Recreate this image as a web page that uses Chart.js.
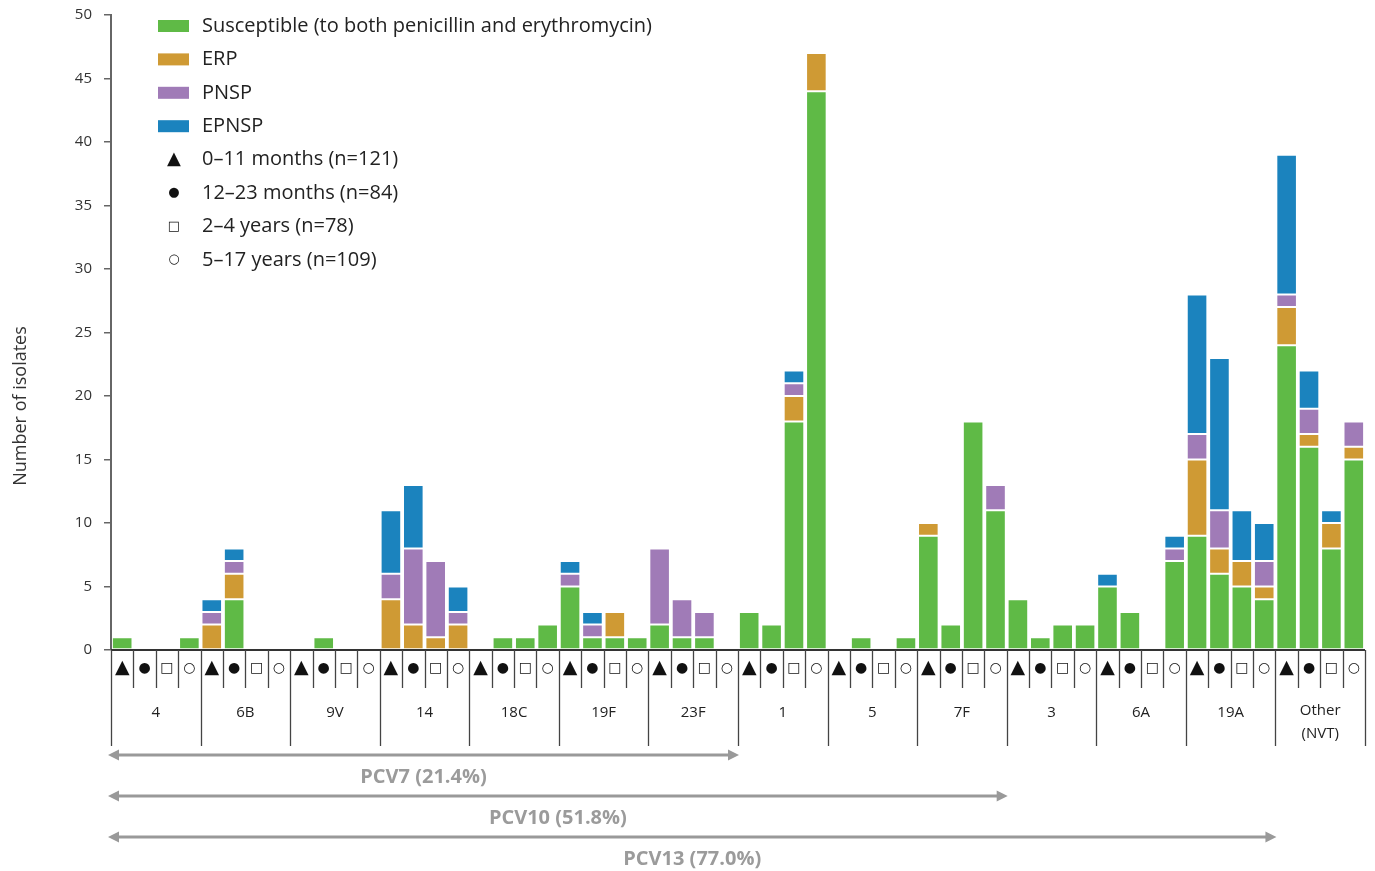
<!DOCTYPE html>
<html>
<head>
<meta charset="utf-8">
<script src="https://cdn.jsdelivr.net/npm/chart.js@4.4.1/dist/chart.umd.min.js"></script>
<style>
  html, body { margin: 0; padding: 0; background: #fff; }
  #wrap { width: 1375px; height: 871px; }
</style>
</head>
<body>
<div id="wrap"><canvas id="isolatesChart" width="1375" height="871"></canvas></div>
<script>
// serotype groups, each split in four age groups
const serotypes = ["4", "6B", "9V", "14", "18C", "19F", "23F", "1", "5", "7F", "3", "6A", "19A", "Other\n(NVT)"];
const ageSymbols = ["▲", "●", "□", "○"];
const ageLegend = ["0–11 months (n=121)", "12–23 months (n=84)", "2–4 years (n=78)", "5–17 years (n=109)"];
const seriesNames = ["Susceptible (to both penicillin and erythromycin)", "ERP", "PNSP", "EPNSP"];
const seriesColors = ["#5fba46", "#cf9a34", "#a07bb7", "#1b83be"];
const yTicks = [0, 5, 10, 15, 20, 25, 30, 35, 40, 45, 50];

// values per bar: ▲ ● □ ○ for each serotype, in order
const susceptible = [
  1, 0, 0, 1,   0, 4, 0, 0,   0, 1, 0, 0,   0, 0, 0, 0,
  0, 1, 1, 2,   5, 1, 1, 1,   2, 1, 1, 0,   3, 2, 18, 44,
  0, 1, 0, 1,   9, 2, 18, 11, 4, 1, 2, 2,   5, 3, 0, 7,
  9, 6, 5, 4,   24, 16, 8, 15
];
const erp = [
  0, 0, 0, 0,   2, 2, 0, 0,   0, 0, 0, 0,   4, 2, 1, 2,
  0, 0, 0, 0,   0, 0, 2, 0,   0, 0, 0, 0,   0, 0, 2, 3,
  0, 0, 0, 0,   1, 0, 0, 0,   0, 0, 0, 0,   0, 0, 0, 0,
  6, 2, 2, 1,   3, 1, 2, 1
];
const pnsp = [
  0, 0, 0, 0,   1, 1, 0, 0,   0, 0, 0, 0,   2, 6, 6, 1,
  0, 0, 0, 0,   1, 1, 0, 0,   6, 3, 2, 0,   0, 0, 1, 0,
  0, 0, 0, 0,   0, 0, 0, 2,   0, 0, 0, 0,   0, 0, 0, 1,
  2, 3, 0, 2,   1, 2, 0, 2
];
const epnsp = [
  0, 0, 0, 0,   1, 1, 0, 0,   0, 0, 0, 0,   5, 5, 0, 2,
  0, 0, 0, 0,   1, 1, 0, 0,   0, 0, 0, 0,   0, 0, 1, 0,
  0, 0, 0, 0,   0, 0, 0, 0,   0, 0, 0, 0,   1, 0, 0, 1,
  11, 12, 4, 3, 11, 3, 1, 0
];

// vaccine coverage: label and number of serotype groups covered
const vaccineLabels = ["PCV7 (21.4%)", "PCV10 (51.8%)", "PCV13 (77.0%)"];
const vaccineGroups = [7, 10, 13];

const barLabels = [];
serotypes.forEach((s) => ageSymbols.forEach((a) => barLabels.push(s + " " + a)));

const FONT = "'Open Sans', Lato, sans-serif";

const nullZero = (arr) => arr.map((v) => (v === 0 ? null : v));

const bottomAxis = {
  id: "bottomAxis",
  afterDraw(chart) {
    const ctx = chart.ctx;
    const x = chart.scales.x;
    const area = chart.chartArea;
    const step = x.getPixelForValue(1) - x.getPixelForValue(0);
    const base = area.bottom;
    ctx.save();

    // baseline
    ctx.strokeStyle = "#333";
    ctx.lineWidth = 2;
    ctx.beginPath();
    ctx.moveTo(area.left, base);
    ctx.lineTo(area.right, base);
    ctx.stroke();

    // cell separators
    ctx.lineWidth = 1.3;
    ctx.strokeStyle = "#444";
    for (let i = 0; i <= barLabels.length; i++) {
      const px = Math.round(x.getPixelForValue(i) - step / 2) + 0.5;
      ctx.beginPath();
      ctx.moveTo(px, base);
      ctx.lineTo(px, base + (i % 4 === 0 ? 96 : 38));
      ctx.stroke();
    }

    // age symbols
    ctx.fillStyle = "#111";
    ctx.textAlign = "center";
    ctx.textBaseline = "middle";
    for (let i = 0; i < barLabels.length; i++) {
      const k = i % 4;
      ctx.font = (k === 0 ? "19px" : "14px") + " 'DejaVu Sans'";
      ctx.fillText(ageSymbols[k], x.getPixelForValue(i), base + 18);
    }

    // serotype names
    ctx.font = "15px " + FONT;
    ctx.fillStyle = "#222";
    serotypes.forEach((s, g) => {
      const cx = (x.getPixelForValue(g * 4) + x.getPixelForValue(g * 4 + 3)) / 2;
      const lines = s.split("\n");
      if (lines.length === 1) {
        ctx.fillText(s, cx, base + 63);
      } else {
        ctx.fillText(lines[0], cx, base + 61);
        ctx.fillText(lines[1], cx, base + 84);
      }
    });

    // vaccine arrows
    const x0 = area.left - 3;
    vaccineGroups.forEach((n, j) => {
      const x1 = x.getPixelForValue(n * 4) - step / 2 + 1;
      const y = base + 105 + j * 41;
      ctx.strokeStyle = "#999";
      ctx.fillStyle = "#999";
      ctx.lineWidth = 3;
      ctx.beginPath();
      ctx.moveTo(x0 + 8, y);
      ctx.lineTo(x1 - 8, y);
      ctx.stroke();
      ctx.beginPath();
      ctx.moveTo(x0, y);
      ctx.lineTo(x0 + 11, y - 5.5);
      ctx.lineTo(x0 + 11, y + 5.5);
      ctx.closePath();
      ctx.fill();
      ctx.beginPath();
      ctx.moveTo(x1, y);
      ctx.lineTo(x1 - 11, y - 5.5);
      ctx.lineTo(x1 - 11, y + 5.5);
      ctx.closePath();
      ctx.fill();
      ctx.font = "bold 20px " + FONT;
      ctx.fillStyle = "#9b9b9b";
      ctx.fillText(vaccineLabels[j], (x0 + x1) / 2, y + 22);
    });

    // legend
    ctx.textAlign = "left";
    ctx.font = "20px " + FONT;
    seriesNames.forEach((name, k) => {
      const y = 26 + k * 33.4;
      ctx.fillStyle = seriesColors[k];
      ctx.fillRect(158, y - 6, 31, 12);
      ctx.fillStyle = "#222";
      ctx.fillText(name, 202, y);
    });
    ageLegend.forEach((name, k) => {
      const y = 26 + (k + 4) * 33.4;
      ctx.fillStyle = "#111";
      ctx.textAlign = "center";
      ctx.font = (k === 0 ? "18px" : "13px") + " 'DejaVu Sans'";
      ctx.fillText(ageSymbols[k], 174, y);
      ctx.textAlign = "left";
      ctx.font = "20px " + FONT;
      ctx.fillStyle = "#222";
      ctx.fillText(name, 202, y);
    });

    // y axis title
    ctx.translate(21, 406);
    ctx.rotate(-Math.PI / 2);
    ctx.textAlign = "center";
    ctx.font = "18px " + FONT;
    ctx.fillStyle = "#333";
    ctx.fillText("Number of isolates", 0, 0);
    ctx.restore();
  },
};

document.addEventListener("DOMContentLoaded", () => {
  const ctx = document.getElementById("isolatesChart");
  const values = [susceptible, erp, pnsp, epnsp];

  const data = {
    labels: barLabels,
    datasets: seriesNames.map((name, k) => ({
      label: name,
      data: nullZero(values[k]),
      backgroundColor: seriesColors[k],
      borderColor: "rgba(255,255,255,0.55)",
      borderWidth: 1,
      borderSkipped: false,
      barPercentage: 0.92,
      categoryPercentage: 1,
    })),
  };

  const config = {
    type: "bar",
    data: data,
    options: {
      responsive: false,
      animation: false,
      layout: { padding: { top: 15, right: 10, bottom: 221, left: 0 } },
      scales: {
        x: { stacked: true, display: false },
        y: {
          stacked: true,
          min: 0,
          max: 50,
          afterBuildTicks: (scale) => {
            scale.ticks = yTicks.map((v) => ({ value: v }));
          },
          afterFit: (scale) => {
            scale.width = 111;
            scale.paddingTop = 0;
            scale.paddingBottom = 0;
          },
          border: { display: true, color: "#666", width: 2 },
          grid: { drawOnChartArea: false, drawTicks: true, tickLength: 7, color: "#666", lineWidth: 1.5 },
          ticks: { padding: 12, color: "#333", font: { family: FONT, size: 15 } },
          title: { display: false },
        },
      },
      plugins: {
        legend: { display: false },
        tooltip: { enabled: false },
      },
    },
    plugins: [bottomAxis],
  };

  new Chart(ctx, config);
});
</script>
</body>
</html>
